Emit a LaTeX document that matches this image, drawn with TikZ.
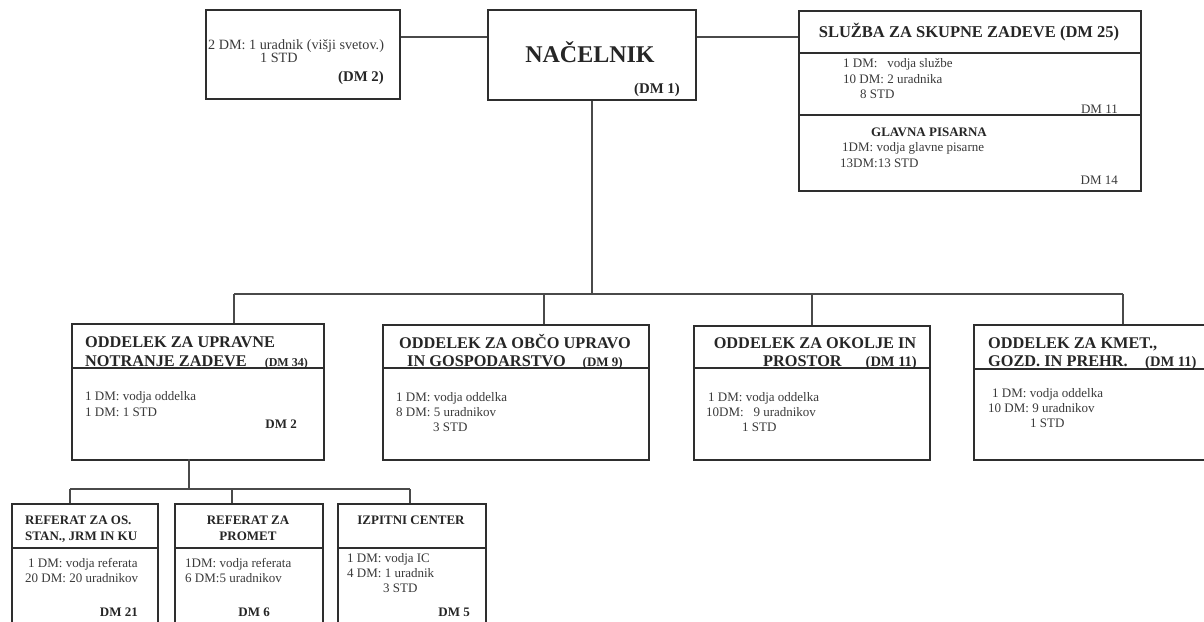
\documentclass[tikz,border=0pt]{standalone}
\usepackage{fontspec}
\setmainfont{Liberation Serif}
\usetikzlibrary{calc}
\definecolor{boxc}{HTML}{2E2E2E}
\definecolor{linec}{HTML}{4A4A4A}
\definecolor{txt}{HTML}{3A3A3A}
\definecolor{htxt}{HTML}{262626}
\tikzset{
  box/.style={draw=boxc, line width=1.8pt, inner sep=0pt, anchor=north west, fill=none},
  conn/.style={draw=linec, line width=1.3pt},
  divl/.style={draw=boxc, line width=1.2pt},
  body/.style={font=\fontsize{13}{15}\selectfont, text=txt, inner sep=0pt, anchor=base west},
  bodyr/.style={body, anchor=base east},
  head/.style={font=\bfseries\fontsize{16.3}{18}\selectfont, text=htxt, inner sep=0pt, anchor=base west},
  headc/.style={head, anchor=base},
  shead/.style={font=\bfseries\fontsize{13}{15}\selectfont, text=htxt, inner sep=0pt, anchor=base west},
  sheadc/.style={shead, anchor=base},
  dmb/.style={font=\bfseries\fontsize{13}{15}\selectfont, text=htxt, inner sep=0pt, anchor=base east},
}
\begin{document}
\begin{tikzpicture}[x=1pt, y=-1pt]
\clip (0,0) rectangle (1204,621);
\fill[white] (0,0) rectangle (1204,621);

% ---------- top level boxes ----------
\node[box, minimum width=194pt, minimum height=89pt] (b2dm) at (205,9) {};
\node[box, minimum width=208pt, minimum height=90pt] (nac) at (487,9) {};
\node[box, minimum width=342pt, minimum height=180pt] (slu) at (798,10) {};
\draw[divl] (slu.west |- 0,53) -- (slu.east |- 0,53);
\draw[divl] (slu.west |- 0,115) -- (slu.east |- 0,115);

% ---------- department boxes ----------
\node[box, minimum width=252pt, minimum height=136pt] (o1) at (71,323) {};
\node[box, minimum width=266pt, minimum height=135pt] (o2) at (382,324) {};
\node[box, minimum width=236pt, minimum height=134pt] (o3) at (693,325) {};
\node[box, minimum width=240pt, minimum height=135pt] (o4) at (973,324) {};
\draw[divl] (o1.west |- 0,368) -- (o1.east |- 0,368);
\draw[divl] (o2.west |- 0,368) -- (o2.east |- 0,368);
\draw[divl] (o3.west |- 0,368) -- (o3.east |- 0,368);
\draw[divl] (o4.west |- 0,369) -- (o4.east |- 0,369);

% ---------- sub boxes ----------
\node[box, minimum width=146pt, minimum height=140pt] (sa) at (11,503) {};
\node[box, minimum width=148pt, minimum height=140pt] (sb) at (174,503) {};
\node[box, minimum width=148pt, minimum height=140pt] (sc) at (337,503) {};
\draw[divl] (sa.west |- 0,548) -- (sa.east |- 0,548);
\draw[divl] (sb.west |- 0,548) -- (sb.east |- 0,548);
\draw[divl] (sc.west |- 0,548) -- (sc.east |- 0,548);

% ---------- connectors ----------
\coordinate (ytop) at (0,37);
\coordinate (bus) at (0,294);
\coordinate (d1) at (234,294);
\coordinate (d2) at (544,294);
\coordinate (d3) at (812,294);
\coordinate (d4) at (1123,294);
\coordinate (o1drop) at (189,459);
\coordinate (sbus) at (0,489);
\coordinate (e1) at (70,489);
\coordinate (e2) at (232,489);
\coordinate (e3) at (410,489);

\draw[conn] (b2dm.east |- ytop) -- (nac.west |- ytop);
\draw[conn] (nac.east |- ytop) -- (slu.west |- ytop);
\draw[conn] (nac.south) -- (nac.south |- bus);
\draw[conn] (d1) -- (d4);
\draw[conn] (d1) -- (d1 |- o1.north);
\draw[conn] (d2) -- (d2 |- o2.north);
\draw[conn] (d3) -- (d3 |- o3.north);
\draw[conn] (d4) -- (d4 |- o4.north);
\draw[conn] (o1drop) -- (o1drop |- sbus);
\draw[conn] (e1) -- (e3);
\draw[conn] (e1) -- (e1 |- sa.north);
\draw[conn] (e2) -- (e2 |- sb.north);
\draw[conn] (e3) -- (e3 |- sc.north);

% ---------- texts: top ----------
\node[body, font=\fontsize{14.2}{16}\selectfont] (t2a) at (208,49) {2 DM: 1 uradnik (višji svetov.)};
\node[body, font=\fontsize{14.2}{16}\selectfont] (t2b) at (260,62) {1 STD};
\node[dmb, font=\bfseries\fontsize{14.8}{16}\selectfont] (t2c) at (384,81) {(DM 2)};

\node[font=\bfseries\fontsize{24}{26}\selectfont, text=htxt, inner sep=0pt, anchor=base] (tnac) at (590,62) {NAČELNIK};
\node[dmb, font=\bfseries\fontsize{14.8}{16}\selectfont] (tnac2) at (680,93) {(DM 1)};

\node[font=\bfseries\fontsize{16.5}{18}\selectfont, text=htxt, inner sep=0pt, anchor=base] (ts0) at (969,37) {SLUŽBA ZA SKUPNE ZADEVE (DM 25)};
\node[body] (ts1) at (843,67) {1 DM:\ \ \ vodja službe};
\node[body] (ts2) at (843,83) {10 DM: 2 uradnika};
\node[body] (ts3) at (860,98) {8 STD};
\node[bodyr] (ts4) at (1118,113) {DM 11};
\node[sheadc] (ts5) at (929,136) {GLAVNA PISARNA};
\node[body] (ts6) at (842,151) {1DM: vodja glavne pisarne};
\node[body] (ts7) at (840,167) {13DM:13 STD};
\node[bodyr] (ts8) at (1118,184) {DM 14};

% ---------- texts: departments ----------
\node[head] (h1a) at (85,347) {ODDELEK ZA UPRAVNE};
\node[head] (h1b) at (85,366) {NOTRANJE ZADEVE};
\node[dmb, font=\bfseries\fontsize{12}{14}\selectfont] (h1c) at (308,366) {(DM 34)};
\node[body] (b1a) at (85,400) {1 DM: vodja oddelka};
\node[body] (b1b) at (85,416) {1 DM: 1 STD};
\node[dmb] (b1c) at (297,428) {DM 2};

\node[headc] (h2a) at (515,348) {ODDELEK ZA OBČO UPRAVO};
\node[head] (h2b) at (407,366) {IN GOSPODARSTVO};
\node[dmb] (h2c) at (623,366) {(DM 9)};
\node[body] (b2a) at (396,401) {1 DM: vodja oddelka};
\node[body] (b2b) at (396,416) {8 DM: 5 uradnikov};
\node[body] (b2c) at (433,431) {3 STD};

\node[headc] (h3a) at (815,348) {ODDELEK ZA OKOLJE IN};
\node[head] (h3b) at (763,366) {PROSTOR};
\node[dmb, font=\bfseries\fontsize{14.5}{16}\selectfont] (h3c) at (917,366) {(DM 11)};
\node[body] (b3a) at (708,401) {1 DM: vodja oddelka};
\node[body] (b3b) at (706,416) {10DM:\ \ \ 9 uradnikov};
\node[body] (b3c) at (742,431) {1 STD};

\node[head] (h4a) at (988,348) {ODDELEK ZA KMET.,};
\node[head] (h4b) at (988,366) {GOZD. IN PREHR.};
\node[dmb, font=\bfseries\fontsize{14.5}{16}\selectfont, anchor=base west] (h4c) at (1145,366) {(DM 11)};
\node[body] (b4a) at (992,397) {1 DM: vodja oddelka};
\node[body] (b4b) at (988,412) {10 DM: 9 uradnikov};
\node[body] (b4c) at (1030,427) {1 STD};

% ---------- texts: sub boxes ----------
\node[shead] (ha1) at (25,524) {REFERAT ZA OS.};
\node[shead] (ha2) at (25,540) {STAN., JRM IN KU};
\node[body] (ba1) at (28,567) {1 DM: vodja referata};
\node[body] (ba2) at (25,582) {20 DM: 20 uradnikov};
\node[dmb] (ba3) at (138,616) {DM 21};

\node[sheadc] (hb1) at (248,524) {REFERAT ZA};
\node[sheadc] (hb2) at (248,540) {PROMET};
\node[body] (bb1) at (185,567) {1DM: vodja referata};
\node[body] (bb2) at (185,582) {6 DM:5 uradnikov};
\node[dmb] (bb3) at (270,616) {DM 6};

\node[sheadc] (hc1) at (411,524) {IZPITNI CENTER};
\node[body] (bc1) at (347,562) {1 DM: vodja IC};
\node[body] (bc2) at (347,577) {4 DM: 1 uradnik};
\node[body] (bc3) at (383,592) {3 STD};
\node[dmb] (bc4) at (470,616) {DM 5};
\end{tikzpicture}
\end{document}
